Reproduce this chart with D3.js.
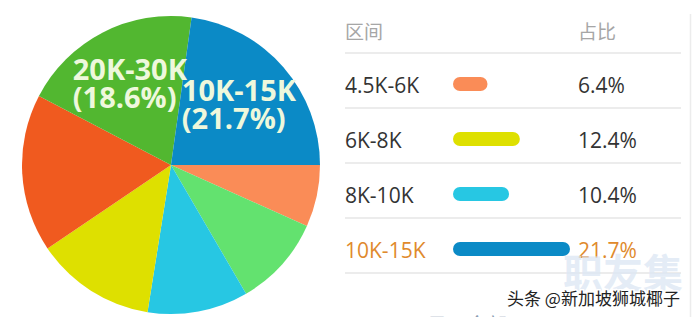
<!DOCTYPE html>
<html>
<head>
<meta charset="utf-8">
<script src="https://cdn.jsdelivr.net/npm/d3@7"></script>
<style>
  html, body { margin: 0; padding: 0; background: #fff; }
  svg { display: block; }
</style>
</head>
<body>
<div id="chart"></div>
<script>
// pie slices, clockwise from 3 o'clock
const sliceNames = ["4.5K-6K", "30K以上", "8K-10K", "6K-8K", "15K-20K", "20K-30K", "10K-15K"];
const sliceValues = [6.4, 9.4, 10.4, 12.4, 16.3, 18.6, 21.7];
const sliceColors = ["#fa8c57", "#63e26f", "#27c7e3", "#dee000", "#f05a1f", "#52b730", "#0b8ac6"];
const labelled = ["20K-30K", "10K-15K"];

// table rows
const rowNames = ["4.5K-6K", "6K-8K", "8K-10K", "10K-15K"];
const rowValues = [6.4, 12.4, 10.4, 21.7];
const rowColors = ["#fa8c57", "#dee000", "#27c7e3", "#0b8ac6"];
const headers = ["区间", "占比"];

const width = 696, height = 317;
const svg = d3.select("#chart").append("svg")
    .attr("width", width)
    .attr("height", height);

// ---- pie ----
const cx = 171, cy = 165, radius = 149;
const pie = d3.pie()
    .sort(null)
    .value(function(d) { return d.value; })
    .startAngle(Math.PI / 2)
    .endAngle(Math.PI / 2 + Math.PI * 2);
const arc = d3.arc().innerRadius(0).outerRadius(radius);
const labelArc = d3.arc().innerRadius(90).outerRadius(90);

const slices = sliceNames.map(function(n, i) {
    return { name: n, value: sliceValues[i], color: sliceColors[i] };
});
const total = d3.sum(sliceValues);

const pg = svg.append("g").attr("transform", `translate(${cx},${cy})`);
const arcs = pie(slices);
pg.selectAll("path")
    .data(arcs).enter()
    .append("path")
    .attr("d", arc)
    .style("fill", function(d) { return d.data.color; });

const labels = pg.selectAll("text.lbl")
    .data(arcs.filter(function(d) { return labelled.includes(d.data.name); }))
    .enter()
    .append("text")
    .attr("class", "lbl")
    .style("font-family", "'Open Sans', sans-serif")
    .style("font-weight", 700)
    .style("font-size", "29px")
    .style("fill", "#eef8dc");

labels.each(function(d) {
    const t = d3.select(this);
    const c = labelArc.centroid(d);
    const l1 = t.append("tspan").attr("y", c[1] - 5).text(d.data.name);
    const l2 = t.append("tspan").attr("y", c[1] + 23)
        .text("(" + d.data.value.toFixed(1) + "%)");
    const w = Math.max(l1.node().getComputedTextLength(), l2.node().getComputedTextLength());
    l1.attr("x", c[0] - w / 2);
    l2.attr("x", c[0] - w / 2);
});

// ---- table ----
const tx = 345, px = 578, barX = 453;
const rowY = d3.scalePoint()
    .domain(rowNames)
    .range([84, 84 + 55 * (rowNames.length - 1)]);
const barW = d3.scaleLinear().domain([0, 21.7]).range([0, 117]);

// right border
svg.append("line")
    .attr("x1", 690.5).attr("x2", 690.5)
    .attr("y1", 14).attr("y2", height)
    .style("stroke", "#ececec").style("stroke-width", 1.5);

// separators
const sepY = d3.range(rowNames.length + 1).map(function(i) { return 53 + i * 55; });
svg.selectAll("line.sep")
    .data(sepY).enter()
    .append("line")
    .attr("class", "sep")
    .attr("x1", tx).attr("x2", 681)
    .attr("y1", function(d) { return d; })
    .attr("y2", function(d) { return d; })
    .style("stroke", "#e6e6e6").style("stroke-width", 1.5);

svg.selectAll("text.hdr")
    .data(headers).enter()
    .append("text")
    .attr("class", "hdr")
    .attr("x", function(d, i) { return i === 0 ? tx : px; })
    .attr("y", 39)
    .style("font-family", "'Noto Sans CJK SC', sans-serif")
    .style("font-size", "19px")
    .style("fill", "#a6a6a6")
    .text(function(d) { return d; });

const rows = svg.selectAll("g.row")
    .data(rowNames).enter()
    .append("g")
    .attr("class", "row")
    .attr("transform", function(d) { return `translate(0,${rowY(d)})`; });

function rowText(i) { return i === rowNames.length - 1 ? "#e08a2c" : "#333"; }

rows.append("text")
    .attr("x", tx)
    .attr("y", 9)
    .style("font-family", "'Open Sans', sans-serif")
    .style("font-size", "21px")
    .style("fill", function(d, i) { return rowText(i); })
    .text(function(d) { return d; });

rows.append("rect")
    .attr("x", barX)
    .attr("y", -7)
    .attr("height", 14)
    .attr("rx", 7)
    .attr("width", function(d, i) { return barW(rowValues[i]); })
    .style("fill", function(d, i) { return rowColors[i]; });

rows.append("text")
    .attr("x", px)
    .attr("y", 9)
    .style("font-family", "'Open Sans', sans-serif")
    .style("font-size", "21px")
    .style("fill", function(d, i) { return rowText(i); })
    .text(function(d, i) { return rowValues[i].toFixed(1) + "%"; });

// watermarks
svg.append("text")
    .attr("x", 563).attr("y", 288)
    .style("font-family", "'Noto Sans CJK SC', sans-serif")
    .style("font-size", "40px")
    .style("font-weight", 700)
    .style("fill", "#dde7f4")
    .style("fill-opacity", 0.8)
    .text("职友集");

svg.append("text")
    .attr("x", 507).attr("y", 305)
    .style("font-family", "'Noto Sans CJK SC', sans-serif")
    .style("font-size", "17px")
    .style("fill", "#222")
    .style("stroke", "#fff")
    .style("stroke-width", 3)
    .style("paint-order", "stroke")
    .text("头条 @新加坡狮城椰子");

svg.append("text")
    .attr("x", 427).attr("y", 333)
    .style("font-family", "'Noto Sans CJK SC', sans-serif")
    .style("font-size", "20px")
    .style("fill", "#8a9bb0")
    .text("显示全部");
</script>
</body>
</html>
